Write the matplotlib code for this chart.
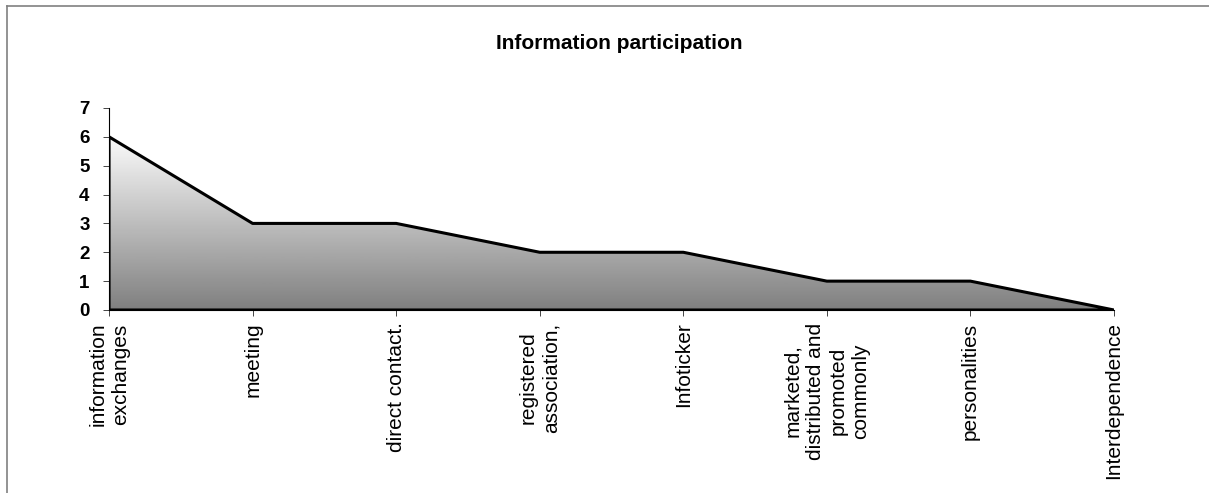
import numpy as np
import matplotlib
matplotlib.use("Agg")
import matplotlib.pyplot as plt
from matplotlib.patches import Polygon
from matplotlib.lines import Line2D

plt.rcParams['font.family'] = ['Liberation Sans', 'DejaVu Sans']

categories = ["information\nexchanges", "meeting", "direct contact.",
              "registered\nassociation,", "Infoticker",
              "marketed,\ndistributed and\npromoted\ncommonly",
              "personalities", "Interdependence"]
values = [6, 3, 3, 2, 2, 1, 1, 0]
title = "Information participation"

fig = plt.figure(figsize=(12.09, 4.93), dpi=100)
ax = fig.add_axes([0.0902, 0.3712, 0.8312, 0.4098])

x = np.arange(len(values))

# area with black outline
ax.fill_between(x, values, 0, facecolor="none", edgecolor="black",
                linewidth=2.2, zorder=3)

# vertical gradient, light on top, dark grey at bottom, clipped to the area
grad = np.linspace(0.5, 0.985, 256).reshape(-1, 1)
img = ax.imshow(grad, cmap="gray", vmin=0, vmax=1, origin="lower",
                extent=[0, len(values) - 1, 0, max(values)], aspect="auto",
                zorder=2)
verts = np.column_stack([np.r_[x, x[::-1]], np.r_[values, np.zeros(len(x))]])
clip = Polygon(verts, closed=True, transform=ax.transData, facecolor="none",
               edgecolor="none")
ax.add_patch(clip)
img.set_clip_path(clip)

ax.set_xlim(0, len(values) - 1)
ax.set_ylim(0, 7)
ax.set_yticks(range(0, 8))
ax.set_xticks(x)
ax.set_xticklabels(categories, rotation=90, ha="center", va="top",
                   multialignment="center", fontsize=15, linespacing=1.25)
for lab in ax.get_yticklabels():
    lab.set_fontweight("bold")
    lab.set_fontsize(13.5)

ax.spines["top"].set_visible(False)
ax.spines["right"].set_visible(False)
ax.spines["left"].set_linewidth(0.8)
ax.spines["bottom"].set_linewidth(0.8)
ax.tick_params(axis="y", length=4, width=0.7, pad=10, color="#444444")
ax.tick_params(axis="x", length=4, width=0.7, pad=5, color="#444444")

fig.text(0.512, 0.912, title, ha="center", va="center", fontsize=15,
         fontweight="bold")

# grey frame around the chart area (top and left edges visible)
fig.add_artist(Line2D([7 / 1209, 1], [1 - 6 / 493, 1 - 6 / 493],
                      color="#808080", linewidth=1.2))
fig.add_artist(Line2D([7 / 1209, 7 / 1209], [0, 1 - 6 / 493],
                      color="#808080", linewidth=1.2))

fig.savefig("out.png", dpi=100)
